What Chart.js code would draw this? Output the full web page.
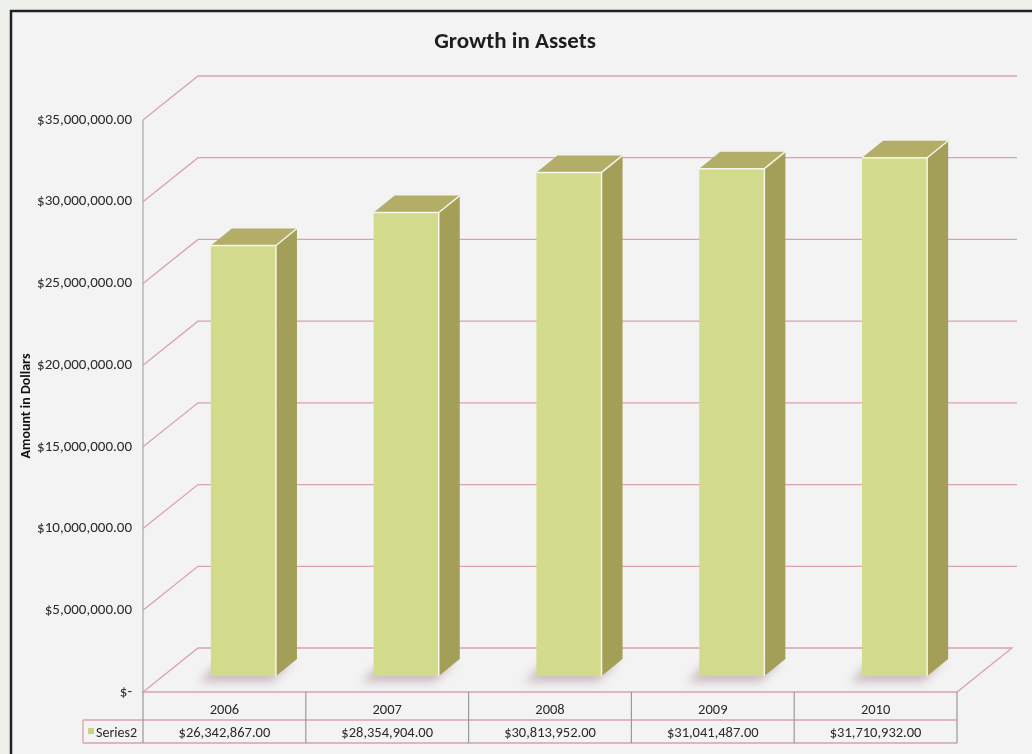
<!DOCTYPE html>
<html>
<head>
<meta charset="utf-8">
<title>Growth in Assets</title>
<script src="https://cdn.jsdelivr.net/npm/chart.js@4.4.1/dist/chart.umd.min.js"></script>
<style>
    body { margin: 0; background: #eef0ec; }
    canvas { display: block; }
</style>
</head>
<body>
<canvas id="assetsChart" width="1032" height="754"></canvas>
<script>
// data
const years = ['2006', '2007', '2008', '2009', '2010'];
const assets = [26342867, 28354904, 30813952, 31041487, 31710932];
const seriesName = 'Series2';
const yMax = 35000000;
const yStep = 5000000;

const FONT = "Carlito, Lato, 'Open Sans', sans-serif";

// 3d depth of the walls and where the bars sit in that depth
const wallDepth = { dx: 55, dy: -44 };
const barShift = { dx: 19, dy: -16 };
const barDepth = { dx: 21, dy: -17 };

function money(v) {
    if (v === 0) return '$-';
    return '$' + v.toLocaleString('en-US', { minimumFractionDigits: 2, maximumFractionDigits: 2 });
}

const threeD = {
    id: 'threeD',
    beforeDraw(chart) {
        const c = chart.ctx;
        c.save();
        c.fillStyle = '#eef0ec';
        c.fillRect(0, 0, chart.width, chart.height);
        c.fillStyle = '#f3f3f3';
        c.fillRect(11, 11, chart.width, chart.height);
        c.strokeStyle = '#222';
        c.lineWidth = 2.5;
        c.strokeRect(11, 11, chart.width + 10, chart.height + 10);
        c.restore();
    },
    beforeDatasetsDraw(chart) {
        const c = chart.ctx;
        const a = chart.chartArea;
        const y = chart.scales.y;

        c.save();
        // floor
        c.strokeStyle = '#d9a3aa';
        c.lineWidth = 1.3;
        c.beginPath();
        c.moveTo(a.left, a.bottom);
        c.lineTo(a.right, a.bottom);
        c.lineTo(a.right + wallDepth.dx, a.bottom + wallDepth.dy);
        c.lineTo(a.left + wallDepth.dx, a.bottom + wallDepth.dy);
        c.closePath();
        c.stroke();

        // gridlines: side wall diagonal then back wall
        y.ticks.forEach(t => {
            if (t.value === 0) return;
            const py = y.getPixelForValue(t.value);
            c.beginPath();
            c.moveTo(a.left, py);
            c.lineTo(a.left + wallDepth.dx, py + wallDepth.dy);
            c.lineTo(a.right + wallDepth.dx + 5, py + wallDepth.dy);
            c.stroke();
        });

        // front axis line
        c.strokeStyle = '#a8a8a8';
        c.lineWidth = 1.2;
        c.beginPath();
        c.moveTo(a.left, a.top);
        c.lineTo(a.left, a.bottom);
        c.stroke();

        // soft shadows on the floor
        const meta = chart.getDatasetMeta(0);
        c.filter = 'blur(5px)';
        c.fillStyle = 'rgba(145, 105, 115, 0.4)';
        meta.data.forEach(bar => {
            const p = bar.getProps(['x', 'base', 'width']);
            const x0 = p.x - p.width / 2 + barShift.dx - 12;
            const y0 = p.base + barShift.dy + 6;
            c.beginPath();
            c.moveTo(x0, y0);
            c.lineTo(x0 + p.width + 8, y0);
            c.lineTo(x0 + p.width + 8 + barDepth.dx, y0 + barDepth.dy - 4);
            c.lineTo(x0 + barDepth.dx, y0 + barDepth.dy - 4);
            c.closePath();
            c.fill();
        });
        c.filter = 'none';
        c.restore();

        // bars are drawn by Chart.js pushed back into the depth
        c.save();
        c.translate(barShift.dx, barShift.dy);
    },
    afterDatasetsDraw(chart) {
        const c = chart.ctx;
        const meta = chart.getDatasetMeta(0);
        meta.data.forEach(bar => {
            const p = bar.getProps(['x', 'y', 'base', 'width']);
            const l = p.x - p.width / 2;
            const r = p.x + p.width / 2;
            // side face
            c.fillStyle = '#a39e58';
            c.beginPath();
            c.moveTo(r, p.y);
            c.lineTo(r + barDepth.dx, p.y + barDepth.dy);
            c.lineTo(r + barDepth.dx, p.base + barDepth.dy);
            c.lineTo(r, p.base);
            c.closePath();
            c.fill();
            // top face
            c.fillStyle = '#b2ad67';
            c.beginPath();
            c.moveTo(l, p.y);
            c.lineTo(l + barDepth.dx, p.y + barDepth.dy);
            c.lineTo(r + barDepth.dx, p.y + barDepth.dy);
            c.lineTo(r, p.y);
            c.closePath();
            c.fill();
            // light edges
            c.strokeStyle = 'rgba(255, 255, 255, 0.85)';
            c.lineWidth = 1.5;
            c.beginPath();
            c.moveTo(l, p.y);
            c.lineTo(r, p.y);
            c.lineTo(r + barDepth.dx, p.y + barDepth.dy);
            c.moveTo(r, p.y);
            c.lineTo(r, p.base);
            c.stroke();
        });
        c.restore();
    },
    afterDraw(chart) {
        const c = chart.ctx;
        const a = chart.chartArea;
        const x = chart.scales.x;
        const colW = (a.right - a.left) / years.length;
        const rowTop = a.bottom;
        const rowMid = a.bottom + 28;
        const rowBot = a.bottom + 51;
        const keyLeft = 83;

        c.save();
        // table lines
        c.strokeStyle = '#d9a3aa';
        c.lineWidth = 1.3;
        c.beginPath();
        c.moveTo(keyLeft, rowMid);
        c.lineTo(a.right, rowMid);
        c.moveTo(keyLeft, rowBot);
        c.lineTo(a.right, rowBot);
        c.moveTo(keyLeft, rowMid);
        c.lineTo(keyLeft, rowBot);
        c.stroke();

        c.strokeStyle = '#9a9a9a';
        c.lineWidth = 1.2;
        c.beginPath();
        for (let i = 0; i <= years.length; i++) {
            const px = a.left + i * colW;
            c.moveTo(px, rowTop);
            c.lineTo(px, rowBot);
        }
        c.stroke();

        // table text
        c.fillStyle = '#2a2a2a';
        c.font = '14.5px ' + FONT;
        c.textAlign = 'center';
        c.textBaseline = 'middle';
        years.forEach((yr, i) => {
            const cx = x.getPixelForValue(i);
            c.fillText(yr, cx, (rowTop + rowMid) / 2 + 4);
            c.fillText(money(assets[i]), cx, (rowMid + rowBot) / 2 + 2);
        });

        // legend key + series name
        c.fillStyle = '#c9d47e';
        c.fillRect(keyLeft + 5, rowMid + 8, 6, 6);
        c.fillStyle = '#2a2a2a';
        c.textAlign = 'left';
        c.font = '14px ' + FONT;
        c.fillText(seriesName, keyLeft + 13, (rowMid + rowBot) / 2 + 2);

        // title
        c.font = 'bold 23px ' + FONT;
        c.fillStyle = '#1e1e1e';
        c.textAlign = 'center';
        c.fillText('Growth in Assets', 515, 42);
        c.restore();
    }
};

new Chart(document.getElementById('assetsChart'), {
    type: 'bar',
    data: {
        labels: years,
        datasets: [{
            label: seriesName,
            data: assets,
            backgroundColor: '#d2da8b',
            borderWidth: 0,
            categoryPercentage: 1,
            barPercentage: 0.4,
            clip: false
        }]
    },
    options: {
        responsive: false,
        animation: false,
        layout: {
            padding: { top: 120, left: 11, right: 75, bottom: 62 }
        },
        plugins: {
            legend: { display: false },
            title: { display: false },
            tooltip: { enabled: false }
        },
        scales: {
            x: {
                display: false
            },
            y: {
                min: 0,
                max: yMax,
                afterFit(scale) {
                    scale.width = 132;
                },
                ticks: {
                    stepSize: yStep,
                    padding: 11,
                    color: '#2a2a2a',
                    font: { size: 15, family: FONT },
                    callback: v => money(v)
                },
                grid: { display: false, drawTicks: false },
                border: { display: false },
                title: {
                    display: true,
                    text: 'Amount in Dollars',
                    color: '#111',
                    font: { size: 14, weight: 'bold', family: FONT },
                    padding: { top: 7, bottom: 0 }
                }
            }
        }
    },
    plugins: [threeD]
});
</script>
</body>
</html>
